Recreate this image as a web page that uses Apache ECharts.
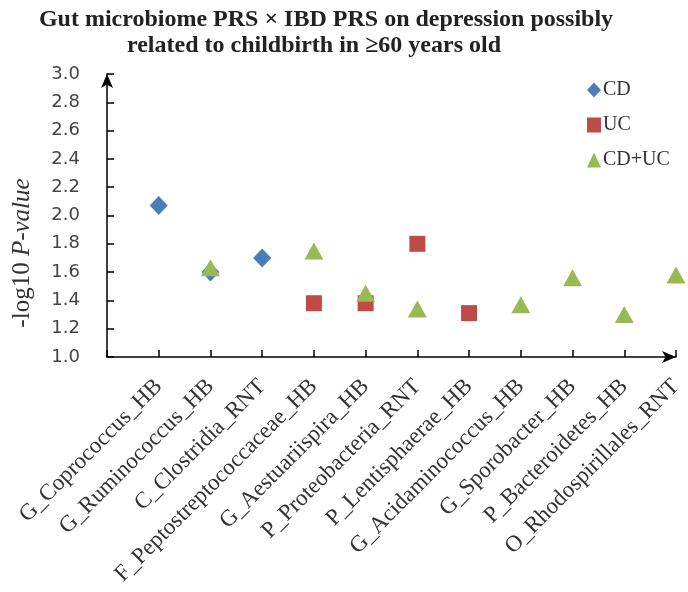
<!DOCTYPE html>
<html>
<head>
<meta charset="utf-8">
<script src="https://cdn.jsdelivr.net/npm/echarts@6/dist/echarts.min.js"></script>
<style>html,body{margin:0;padding:0;background:#fff}#c{width:688px;height:592px}</style>
</head>
<body>
<div id="c"></div>
<script>
var categories = ['G_Coprococcus_HB','G_Ruminococcus_HB','C_Clostridia_RNT','F_Peptostreptococcaceae_HB','G_Aestuariispira_HB','P_Proteobacteria_RNT','P_Lentisphaerae_HB','G_Acidaminococcus_HB','G_Sporobacter_HB','P_Bacteroidetes_HB','O_Rhodospirillales_RNT'];
var cdValues   = [2.07, 1.60, 1.70, null, null, null, null, null, null, null, null];
var ucValues   = [null, null, null, 1.38, 1.38, 1.80, 1.31, null, null, null, null];
var cdUcValues = [null, 1.63, null, 1.75, 1.45, 1.34, null, 1.37, 1.56, 1.30, 1.58];
var yTicks = ['1.0','1.2','1.4','1.6','1.8','2.0','2.2','2.4','2.6','2.8','3.0'];

function pairs(vals){
  var out = [];
  vals.forEach(function(v,i){ if(v!==null) out.push([categories[i], v]); });
  return out;
}
var serif = '"Liberation Serif","Times New Roman",serif';
var chart = echarts.init(document.getElementById('c'));
chart.setOption({
  animation:false,
  title:[
    {text:'Gut microbiome PRS \u00d7 IBD PRS on depression possibly', left:321, top:3, textAlign:'center',
     textStyle:{fontFamily:serif, fontWeight:'bold', fontSize:24, color:'#222'}},
    {text:'related to childbirth in \u226560 years old', left:309, top:29, textAlign:'center',
     textStyle:{fontFamily:serif, fontWeight:'bold', fontSize:24, color:'#222'}}
  ],
  legend:{
    orient:'vertical', left:587, top:80, padding:0, itemGap:15, itemWidth:14, itemHeight:15,
    textStyle:{fontFamily:serif, fontSize:20, color:'#333', padding:[0,0,0,-3]},
    data:[{name:'CD', icon:'diamond'},{name:'UC', icon:'rect'},{name:'CD+UC', icon:'triangle'}]
  },
  grid:{left:107, right:12, top:74, bottom:235},
  xAxis:{
    type:'category', boundaryGap:false, data:[''].concat(categories),
    axisLine:{lineStyle:{color:'#000', width:1.5}, symbol:['none','arrow'], symbolSize:[9,14]},
    axisTick:{inside:true, length:7, lineStyle:{color:'#000', width:1.5}},
    axisLabel:{rotate:45, interval:0, margin:26, fontFamily:serif, fontSize:23, color:'#333'},
    splitLine:{show:false}
  },
  yAxis:{
    type:'value', min:1, max:3, interval:0.2,
    axisLine:{show:true, lineStyle:{color:'#000', width:1.5}, symbol:['none','arrow'], symbolSize:[9,14]},
    axisTick:{show:true, inside:true, length:7, lineStyle:{color:'#000', width:1.5}},
    axisLabel:{margin:27, fontFamily:'"DejaVu Sans",Verdana,sans-serif', fontSize:18, color:'#444',
      formatter:function(v){ var i=Math.round((v-1)/0.2); return yTicks[i]; }},
    splitLine:{show:false}
  },
  graphic:[{
    type:'text', x:22, y:253, rotation:Math.PI/2,
    style:{text:'{a|-log10 }{b|P-value}', align:'center', verticalAlign:'middle',
      rich:{a:{fontFamily:serif, fontSize:25, fill:'#333', color:'#333'},
            b:{fontFamily:serif, fontSize:25, fontStyle:'italic', fill:'#333', color:'#333'}}}
  }],
  series:[
    {name:'CD', type:'scatter', symbol:'diamond', symbolSize:[18,19], itemStyle:{color:'#4A7EBB', opacity:1}, data:pairs(cdValues)},
    {name:'UC', type:'scatter', symbol:'rect', symbolSize:16, itemStyle:{color:'#BE4B48', opacity:1}, data:pairs(ucValues)},
    {name:'CD+UC', type:'scatter', symbol:'triangle', symbolSize:[19,17], itemStyle:{color:'#98B954', opacity:1}, data:pairs(cdUcValues)}
  ]
});
</script>
</body>
</html>
